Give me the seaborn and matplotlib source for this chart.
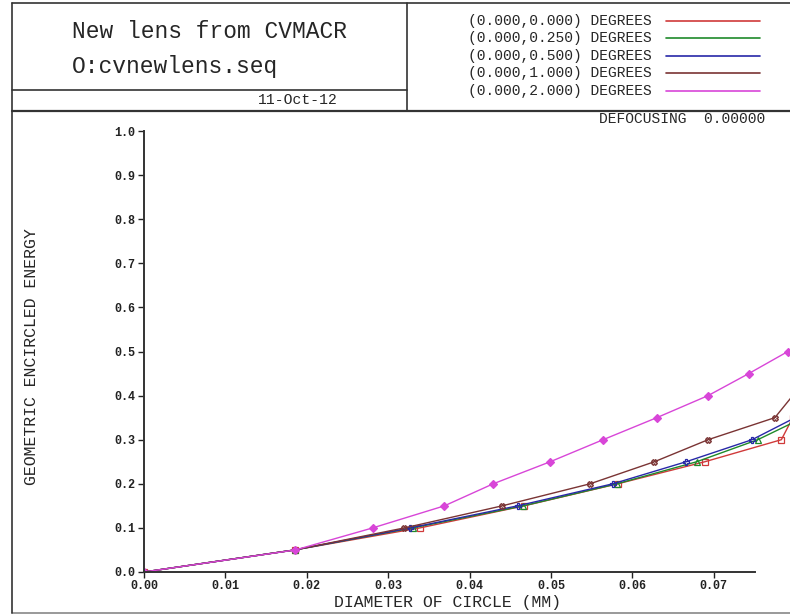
import numpy as np
import pandas as pd
import matplotlib
matplotlib.use("Agg")
import matplotlib.pyplot as plt
import seaborn as sns

# Encircled energy fractions and diameters (mm)
energy = [0.0, 0.05, 0.10, 0.15, 0.20, 0.25, 0.30, 0.35, 0.40, 0.45, 0.50, 0.55]

fields = ["(0.000,0.000) DEGREES", "(0.000,0.250) DEGREES", "(0.000,0.500) DEGREES",
          "(0.000,1.000) DEGREES", "(0.000,2.000) DEGREES"]

diam_000 = [0.0, 0.0185, 0.0339, 0.0467, 0.0582, 0.0689, 0.0783, 0.0797]
diam_025 = [0.0, 0.0185, 0.0330, 0.0466, 0.0581, 0.0679, 0.0754, 0.0810]
diam_050 = [0.0, 0.0185, 0.0327, 0.0459, 0.0576, 0.0666, 0.0747, 0.0800]
diam_100 = [0.0, 0.0185, 0.0320, 0.0440, 0.0548, 0.0627, 0.0693, 0.0775, 0.0797]
diam_200 = [0.0, 0.0186, 0.0281, 0.0369, 0.0429, 0.0499, 0.0564, 0.0630, 0.0693,
            0.0743, 0.0791, 0.0840]

colors = ["#d03a3a", "#1f8a2a", "#2828a8", "#7a3434", "#d846d8"]
markers = ["s", "^", "P", "X", "D"]

rows = []
for name, d in zip(fields, [diam_000, diam_025, diam_050, diam_100, diam_200]):
    for i, x in enumerate(d):
        rows.append({"field": name, "diameter": x, "energy": energy[i], "order": i})
df = pd.DataFrame(rows)

sns.set_style("white")
plt.rcParams['font.family'] = ['Liberation Mono', 'DejaVu Sans Mono']

fig = plt.figure(figsize=(7.9, 6.15), dpi=100)
W, H = 790.0, 615.0

# plot area: x=0 at px 144, 0.01 mm = 81.4 px; y=0 at px 572, 1.0 at px 131
x0, y0, ytop = 144, 572, 131
ax = fig.add_axes([x0 / W, (H - y0) / H, (W - x0) / W, (y0 - ytop) / H])
xmax = (W - x0) / 8140.0

for name, col, mk in zip(fields, colors, markers):
    sub = df[df["field"] == name].sort_values("order")
    face = col if mk == "D" else "none"
    sns.lineplot(data=sub, x="diameter", y="energy", ax=ax, color=col, lw=1.0,
                 marker=mk, markersize=4, markerfacecolor=face,
                 markeredgecolor=col, markeredgewidth=0.9,
                 sort=False, estimator=None, legend=False)

ax.set_xlim(0, xmax)
ax.set_ylim(0, 1.0)
ax.set_xticks(np.arange(0, 0.0701, 0.01))
ax.set_xticklabels([f"{v:.2f}" for v in np.arange(0, 0.0701, 0.01)])
ax.set_yticks(np.arange(0, 1.01, 0.1))
ax.set_yticklabels([f"{v:.1f}" for v in np.arange(0, 1.01, 0.1)])
ax.tick_params(axis="both", direction="out", length=4, width=1, pad=2,
               labelsize=8.5, colors="#222222", bottom=True, left=True)
for lab in ax.get_xticklabels() + ax.get_yticklabels():
    lab.set_fontweight("bold")
ax.spines["top"].set_visible(False)
ax.spines["right"].set_visible(False)
ax.spines["left"].set_linewidth(1.4)
ax.spines["bottom"].set_linewidth(1.4)
ax.spines["left"].set_color("#333333")
ax.spines["bottom"].set_color("#333333")
ax.spines["bottom"].set_bounds(0, (755 - x0) / 8140.0)
ax.set_xlabel("")
ax.set_ylabel("")
ax.patch.set_alpha(0)

# figure texts (pixel coords converted to figure fraction)
def ft(px, py, s, **kw):
    fig.text(px / W, 1 - py / H, s, **kw)

ft(448, 603, "DIAMETER OF CIRCLE (MM)", fontsize=11.9, ha="center", va="center")
ft(32, 357, "GEOMETRIC ENCIRCLED ENERGY", fontsize=11.9, ha="center", va="center",
   rotation=90)
ft(765, 119, "DEFOCUSING  0.00000", fontsize=10.5, ha="right", va="center")

# header box
ft(72, 31, "New lens from CVMACR", fontsize=16.5, ha="left", va="center")
ft(72, 67, "O:cvnewlens.seq", fontsize=16.5, ha="left", va="center")
ft(338, 100, "11-Oct-12", fontsize=10.6, ha="right", va="center")

legend_y = [21, 38, 56, 73, 91]
for name, col, yy in zip(fields, colors, legend_y):
    ft(468, yy, name, fontsize=10.5, ha="left", va="center")
    fig.add_artist(plt.Line2D([666 / W, 760 / W], [1 - yy / H, 1 - yy / H],
                              color=col, lw=1.2))

def hline(y, xa, xb, lw=1.2, c="#333333"):
    fig.add_artist(plt.Line2D([xa / W, xb / W], [1 - y / H, 1 - y / H], color=c, lw=lw))

def vline(x, ya, yb, lw=1.2, c="#333333"):
    fig.add_artist(plt.Line2D([x / W, x / W], [1 - ya / H, 1 - yb / H], color=c, lw=lw))

hline(3, 12, 790)
hline(90, 12, 407)
hline(111, 12, 790, lw=1.6)
hline(613, 12, 790, c="#888888")
vline(12, 3, 613)
vline(407, 3, 111)

fig.savefig("out.png", dpi=100)
